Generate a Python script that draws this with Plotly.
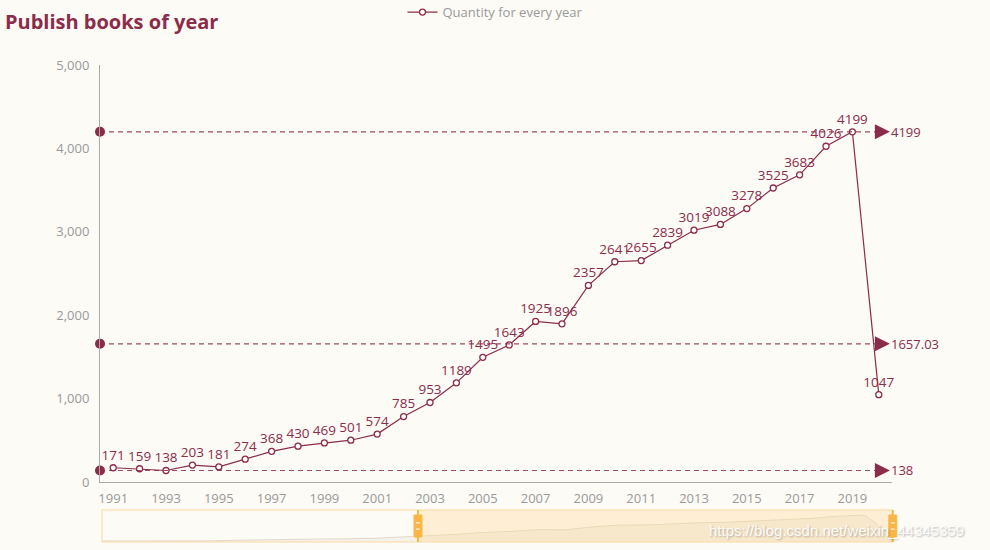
import numpy as np
import plotly.graph_objects as go

years = list(range(1991, 2021))
counts = [171, 159, 138, 203, 181, 274, 368, 430, 469, 501, 574, 785, 953, 1189,
          1495, 1643, 1925, 1896, 2357, 2641, 2655, 2839, 3019, 3088, 3278, 3525,
          3683, 4026, 4199, 1047]
tick_years = list(range(1991, 2021, 2))
ytick_vals = [0, 1000, 2000, 3000, 4000, 5000]
series_name = "Quantity for every year"
title_text = "Publish books of year"

mark_vals = [max(counts), float(np.mean(counts)), min(counts)]
mark_labels = [str(max(counts)), f"{np.mean(counts):.2f}", str(min(counts))]

MAIN = "#8b2c4a"
GREY = "#999999"
BG = "#fdfbf6"
FONT = "Open Sans, Noto Sans, sans-serif"

fig = go.Figure()

# mark lines (dashed)
x_lo, x_hi = years[0] - 0.5, years[-1] + 0.5
for v, lab in zip(mark_vals, mark_labels):
    fig.add_shape(type="line", xref="x", yref="y", x0=x_lo, x1=x_hi - 0.3, y0=v, y1=v,
                  line=dict(color=MAIN, width=1.2, dash="5px,4px"), opacity=0.85)
    fig.add_annotation(x=x_hi, y=v, xref="x", yref="y", text=lab, showarrow=False,
                       xanchor="left", yanchor="middle", xshift=-3,
                       font=dict(color=MAIN, size=13, family=FONT))

# start dots of mark lines
fig.add_trace(go.Scatter(x=[x_lo] * 3, y=mark_vals, mode="markers",
                         marker=dict(symbol="circle", size=10, color=MAIN),
                         showlegend=False, hoverinfo="skip", cliponaxis=False))
# arrows at end
fig.add_trace(go.Scatter(x=[x_hi - 0.08] * 3, y=mark_vals, mode="markers",
                         marker=dict(symbol="arrow-right", size=15, color=MAIN, line=dict(width=0)),
                         showlegend=False, hoverinfo="skip", cliponaxis=False))

# main series
fig.add_trace(go.Scatter(x=years, y=counts, mode="lines+markers+text", name=series_name,
                         line=dict(color=MAIN, width=1.2),
                         marker=dict(symbol="circle", size=6, color="#ffffff",
                                     line=dict(color=MAIN, width=1.3)),
                         text=[str(c) for c in counts], textposition="top center",
                         textfont=dict(color=MAIN, size=13.5, family=FONT),
                         cliponaxis=False))

# data-zoom slider shadow
fig.add_trace(go.Scatter(x=years, y=counts, mode="lines", xaxis="x2", yaxis="y2",
                         line=dict(color="#e3d9c9", width=1), fill="tozeroy",
                         fillcolor="rgba(225,215,200,0.25)", showlegend=False, hoverinfo="skip"))

# slider decorations (paper coords)
sl_y0, sl_y1 = 0.0, 0.0671
fig.add_shape(type="rect", xref="paper", yref="paper", x0=0.0025, x1=1.001, y0=sl_y0, y1=sl_y1,
              line=dict(color="#fbd9a2", width=1), fillcolor="rgba(0,0,0,0)")
fig.add_shape(type="rect", xref="paper", yref="paper", x0=0.4015, x1=1.001, y0=sl_y0, y1=sl_y1,
              line=dict(width=0), fillcolor="rgba(252,214,150,0.35)")
for hx in [0.4015, 1.001]:
    fig.add_shape(type="line", xref="paper", yref="paper", x0=hx, x1=hx, y0=sl_y0, y1=sl_y1,
                  line=dict(color="#f9b646", width=2))
    fig.add_shape(type="rect", xref="paper", yref="paper", x0=hx - 0.005, x1=hx + 0.005,
                  y0=0.0105, y1=0.0566, line=dict(color="#f9b646", width=1), fillcolor="#f9b646")
    fig.add_shape(type="line", xref="paper", yref="paper", x0=hx - 0.0025, x1=hx + 0.0025,
                  y0=0.040, y1=0.040, line=dict(color="#ffffff", width=1))
    fig.add_shape(type="line", xref="paper", yref="paper", x0=hx - 0.0025, x1=hx + 0.0025,
                  y0=0.027, y1=0.027, line=dict(color="#ffffff", width=1))

# watermark
fig.add_annotation(text="https://blog.csdn.net/weixin_44345359", xref="paper", yref="paper",
                   x=0.766, y=0.025, xanchor="left", yanchor="middle", showarrow=False,
                   font=dict(family="Liberation Sans, Arial, sans-serif", size=15,
                             color="rgba(255,255,255,0.95)",
                             shadow="1px 1px 2px rgba(0,0,0,0.3)"))

fig.update_layout(
    width=990, height=550,
    paper_bgcolor=BG, plot_bgcolor=BG,
    margin=dict(l=100, r=98, t=65, b=8, autoexpand=False),
    title=dict(text=f"<b>{title_text}</b>", x=0.005, xref="container", xanchor="left",
               y=0.972, yref="container", yanchor="top",
               font=dict(color=MAIN, size=20, family=FONT)),
    legend=dict(orientation="h", x=0.5, xref="container", xanchor="center",
                y=0.978, yref="container", yanchor="middle",
                font=dict(color=GREY, size=13, family=FONT), bgcolor="rgba(0,0,0,0)"),
    xaxis=dict(range=[x_lo, x_hi], tickvals=tick_years, ticktext=[str(t) for t in tick_years],
               showgrid=False, zeroline=False, showline=True, linecolor="#aaaaaa", linewidth=1,
               ticks="", ticklabelstandoff=4,
               tickfont=dict(color=GREY, size=13, family=FONT), anchor="y",
               domain=[0, 1]),
    yaxis=dict(range=[0, 5000], tickvals=ytick_vals, tickformat=",d", showgrid=False,
               zeroline=False, showline=True, linecolor="#aaaaaa", linewidth=1, ticks="",
               ticklabelstandoff=7,
               tickfont=dict(color=GREY, size=13, family=FONT), domain=[0.1258, 1],
               anchor="x"),
    xaxis2=dict(range=[years[0], years[-1]], domain=[0.0025, 1.0], anchor="y2",
                visible=False, showgrid=False, zeroline=False),
    yaxis2=dict(range=[0, 5000], domain=[0.0, 0.0671], anchor="x2",
                visible=False, showgrid=False, zeroline=False),
    hovermode="closest",
)

fig.write_html("out.html", config={"displayModeBar": False},
               post_script="document.body.style.margin='0';")
